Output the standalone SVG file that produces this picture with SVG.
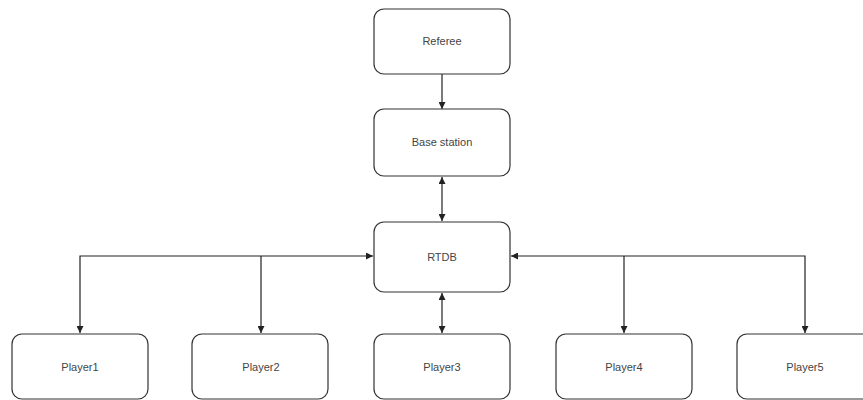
<svg xmlns="http://www.w3.org/2000/svg" width="863" height="400" viewBox="0 0 863 400">
<style>
.box{fill:#fff;stroke:#333;stroke-width:1.2}
.lbl{font-family:"Liberation Sans",Arial,sans-serif;font-size:11px;fill:#444;text-anchor:middle;dominant-baseline:central}
.edge{fill:none;stroke:#222;stroke-width:1.2}
</style>
<defs>
<marker id="arr" viewBox="0 0 10 10" refX="10" refY="5" markerWidth="7" markerHeight="7" orient="auto-start-reverse" markerUnits="userSpaceOnUse">
<path d="M0,0 L10,5 L0,10 z" fill="#222"/>
</marker>
</defs>
<rect width="863" height="400" fill="#fff"/>
<g id="connectors">
<path class="edge" d="M442,74 L442,109" marker-end="url(#arr)"/>
<path class="edge" d="M442,177 L442,221" marker-start="url(#arr)" marker-end="url(#arr)"/>
<path class="edge" d="M442,293 L442,333" marker-start="url(#arr)" marker-end="url(#arr)"/>
<path class="edge" d="M373,256 L80,256 L80,333" marker-start="url(#arr)" marker-end="url(#arr)"/>
<path class="edge" d="M261,256 L261,333" marker-end="url(#arr)"/>
<path class="edge" d="M511,256 L805,256 L805,333" marker-start="url(#arr)" marker-end="url(#arr)"/>
<path class="edge" d="M624,256 L624,333" marker-end="url(#arr)"/>
</g>
<g id="referee"><rect class="box" x="374" y="9" width="136" height="65" rx="10"/><text class="lbl" x="442" y="41">Referee</text></g>
<g id="base"><rect class="box" x="374" y="109" width="136" height="67" rx="10"/><text class="lbl" x="442" y="142">Base station</text></g>
<g id="rtdb"><rect class="box" x="374" y="222" width="136" height="70" rx="10"/><text class="lbl" x="442" y="257">RTDB</text></g>
<g id="player1"><rect class="box" x="12" y="334" width="136" height="65" rx="10"/><text class="lbl" x="80" y="367">Player1</text></g>
<g id="player2"><rect class="box" x="192" y="334" width="136" height="65" rx="10"/><text class="lbl" x="261" y="367">Player2</text></g>
<g id="player3"><rect class="box" x="374" y="334" width="136" height="65" rx="10"/><text class="lbl" x="442" y="367">Player3</text></g>
<g id="player4"><rect class="box" x="556" y="334" width="136" height="65" rx="10"/><text class="lbl" x="624" y="367">Player4</text></g>
<g id="player5"><rect class="box" x="737" y="334" width="136" height="65" rx="10"/><text class="lbl" x="805" y="367">Player5</text></g>
</svg>
